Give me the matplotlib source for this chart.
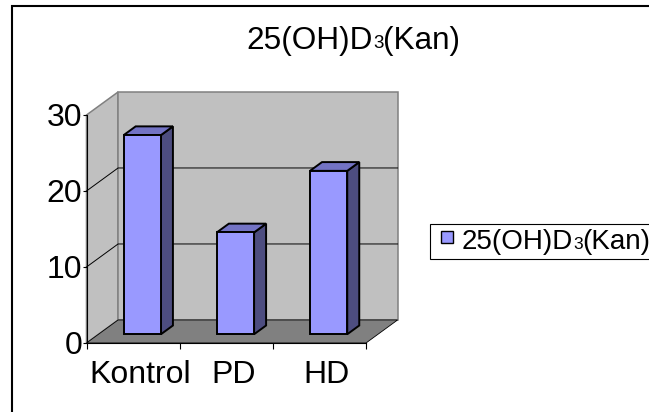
import matplotlib
matplotlib.use("Agg")
import matplotlib.pyplot as plt
from matplotlib.patches import Polygon, Rectangle
from matplotlib.offsetbox import TextArea, HPacker, DrawingArea, AnnotationBbox

FONT = ["Liberation Sans", "DejaVu Sans"]
plt.rcParams["font.family"] = FONT

# ---- data -------------------------------------------------------------
categories = ["Kontrol", "PD", "HD"]
values = [26.2, 13.4, 21.5]
y_ticks = [0, 10, 20, 30]
series_name = ("25(OH)D", "3", "(Kan)")   # main text, small "3", tail

# ---- style ------------------------------------------------------------
WALL = "#C0C0C0"
WALL_EDGE = "#808080"
FLOOR = "#808080"
BAR_FRONT = "#9999FF"
BAR_TOP = "#7373C4"
BAR_SIDE = "#4D4D80"

W, H = 649, 412
fig = plt.figure(figsize=(W / 100, H / 100), dpi=100)
fig.patch.set_facecolor("white")

# outer chart border (runs off the right and bottom edges)
fig.patches.append(Rectangle((12 / W, -0.1), 1.2, 1.1 - 6.5 / H,
                             transform=fig.transFigure, fill=False,
                             edgecolor="black", lw=1.5))

# front plane of the 3-D plot area
ax = fig.add_axes([86.5 / W, 69 / H, 279.5 / W, 228 / H])
ax.set_xlim(0, len(categories))
ax.set_ylim(y_ticks[0], y_ticks[-1])
ax.patch.set_visible(False)
for s in ("top", "right"):
    ax.spines[s].set_visible(False)
for s in ("left", "bottom"):
    ax.spines[s].set_color("black")
    ax.spines[s].set_linewidth(0.8)
    ax.spines[s].set_zorder(5)

# oblique depth offset (in data units for a unit of depth)
DX, DY = 0.339, 3.03


def P(x, v, z):
    return (x + z * DX, v + z * DY)


def face(pts, fc, ec, lw, z):
    ax.add_patch(Polygon([P(*p) for p in pts], closed=True, facecolor=fc,
                         edgecolor=ec, lw=lw, zorder=z, clip_on=False,
                         joinstyle="miter"))


n = len(categories)
top = y_ticks[-1]
# walls and floor
face([(0, 0, 0), (0, top, 0), (0, top, 1), (0, 0, 1)], WALL, WALL_EDGE, 1.1, 1)
face([(0, 0, 1), (n, 0, 1), (n, top, 1), (0, top, 1)], WALL, WALL_EDGE, 1.1, 1)
face([(0, 0, 0), (n, 0, 0), (n, 0, 1), (0, 0, 1)], FLOOR, "black", 0.6, 1.5)

# gridlines on the side and back walls
for v in y_ticks[1:-1]:
    pts = [P(0, v, 0), P(0, v, 1), P(n, v, 1)]
    ax.plot([p[0] for p in pts], [p[1] for p in pts], color="black",
            lw=0.7, zorder=2, clip_on=False)

# 3-D bars
BAR_W, BAR_C = 0.40, 0.47
ZF, ZB = 0.38, 0.76
for i, v in enumerate(values):
    x0 = i + BAR_C - BAR_W / 2
    x1 = x0 + BAR_W
    face([(x1, 0, ZF), (x1, 0, ZB), (x1, v, ZB), (x1, v, ZF)],
         BAR_SIDE, "black", 1.4, 3)
    face([(x0, v, ZF), (x1, v, ZF), (x1, v, ZB), (x0, v, ZB)],
         BAR_TOP, "black", 1.4, 3)
    face([(x0, 0, ZF), (x1, 0, ZF), (x1, v, ZF), (x0, v, ZF)],
         BAR_FRONT, "black", 1.4, 3)

# axes ticks and labels
ax.set_yticks(y_ticks)
ax.set_yticklabels([str(t) for t in y_ticks])
ax.tick_params(axis="y", direction="out", length=3, width=0.8, pad=0,
               labelsize=23, colors="black")
ax.set_xticks(range(n + 1))
ax.set_xticklabels([])
ax.tick_params(axis="x", which="major", direction="out", length=4.5,
               width=0.8, colors="black")
ax.set_xticks([i + 0.58 for i in range(n)], minor=True)
ax.set_xticklabels(categories, minor=True)
ax.tick_params(axis="x", which="minor", length=0, pad=12, labelsize=23)


def rich(size_main, size_small):
    parts = [(series_name[0], size_main), (series_name[1], size_small),
             (series_name[2], size_main)]
    return HPacker(children=[TextArea(t, textprops=dict(fontsize=s, family=FONT))
                             for t, s in parts],
                   align="baseline", pad=0, sep=0)


# title
title = AnnotationBbox(rich(22.7, 13.5), (353.5 / W, 1 - 40.5 / H),
                       xycoords="figure fraction", box_alignment=(0.5, 0.5),
                       frameon=False, pad=0)
fig.add_artist(title)

# legend (frame continues past the right edge)
marker = DrawingArea(19.4, 13, 0, 0)
marker.add_artist(Rectangle((4.3, 4.3), 8.6, 8.6, facecolor=BAR_FRONT,
                            edgecolor="black", lw=1.0))
leg_content = HPacker(children=[marker, rich(20, 12.5), DrawingArea(20, 1, 0, 0)],
                      align="baseline", pad=3.4, sep=0)
legend = AnnotationBbox(leg_content, (430 / W, 1 - 241.6 / H),
                        xycoords="figure fraction", box_alignment=(0, 0.5),
                        frameon=True, pad=0,
                        bboxprops=dict(boxstyle="square,pad=0",
                                       edgecolor="black", lw=0.8,
                                       facecolor="white"))
fig.add_artist(legend)

fig.savefig("out.png", dpi=100)
